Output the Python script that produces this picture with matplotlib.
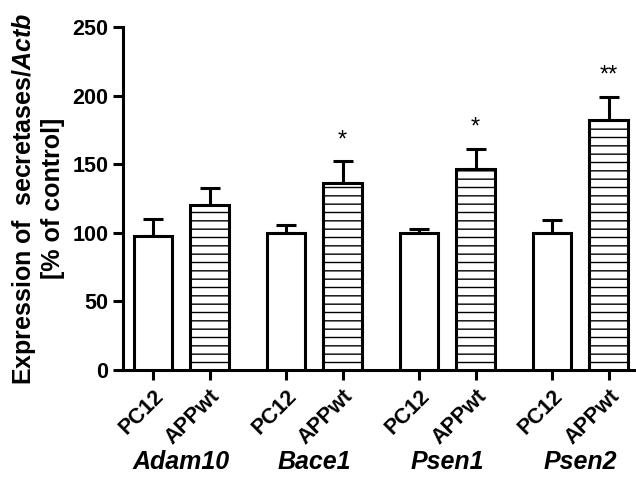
import matplotlib
matplotlib.use("Agg")
import matplotlib.pyplot as plt
import numpy as np

plt.rcParams['font.family'] = ['Liberation Sans', 'DejaVu Sans']
plt.rcParams['font.weight'] = 'bold'
plt.rcParams['mathtext.fontset'] = 'custom'
plt.rcParams['mathtext.it'] = 'Liberation Sans:italic:bold'
plt.rcParams['mathtext.rm'] = 'Liberation Sans:bold'
plt.rcParams['hatch.linewidth'] = 1.0

groups = ['Adam10', 'Bace1', 'Psen1', 'Psen2']
cell_lines = ['PC12', 'APPwt']
pc12 = [98, 100, 100, 100]
pc12_err = [12, 6, 2.5, 9]
appwt = [120.5, 136, 146.5, 182]
appwt_err = [12.5, 16, 14.5, 17]
signif = ['', '*', '*', '**']

fig = plt.figure(figsize=(6.36, 4.86), dpi=100)
ax = fig.add_axes([123 / 636, 116 / 486, 1 - 123 / 636, 343 / 486])

x = np.arange(len(groups))
off = 0.425
w = 0.29
x1 = x
x2 = x + off

ax.bar(x1, pc12, w, color='white', edgecolor='black', linewidth=2.2, zorder=3)
ax.bar(x2, appwt, w, color='white', edgecolor='black', linewidth=2.2,
       hatch='--', zorder=3)
zeros = [0] * len(groups)
ax.errorbar(x1, pc12, yerr=[zeros, pc12_err], fmt='none', ecolor='black',
            elinewidth=2.2, capsize=7, capthick=2.2, zorder=2)
ax.errorbar(x2, appwt, yerr=[zeros, appwt_err], fmt='none', ecolor='black',
            elinewidth=2.2, capsize=7, capthick=2.2, zorder=2)

for xi, v, e, s in zip(x2, appwt, appwt_err, signif):
    if s:
        ax.text(xi, v + e + 11, s, ha='center', va='baseline', fontsize=17,
                fontweight='normal')

ax.set_ylim(0, 250)
ax.set_xlim(-0.2256, 3.63)
ax.set_yticks([0, 50, 100, 150, 200, 250])
ax.set_xticks(np.concatenate([x1, x2]))
ax.set_xticklabels([cell_lines[0]] * len(groups) + [cell_lines[1]] * len(groups),
                   rotation=45, ha='right', rotation_mode='anchor')
ax.tick_params(axis='both', labelsize=15.5, width=2.2, length=7, direction='out')
ax.tick_params(axis='x', pad=4)
for lab in ax.get_xticklabels() + ax.get_yticklabels():
    lab.set_fontweight('bold')

ax.spines['top'].set_visible(False)
ax.spines['right'].set_visible(False)
ax.spines['left'].set_linewidth(2.2)
ax.spines['bottom'].set_linewidth(2.2)

for xi, g in zip(x, groups):
    ax.text(xi + off / 2, -0.268, g, transform=ax.get_xaxis_transform(),
            ha='center', va='center', fontsize=18, fontstyle='italic',
            fontweight='bold')

fig.text(37.5 / 636, 1 - 198.5 / 486,
         'Expression of  secretases/$\\mathit{Actb}$\n[% of control]',
         rotation=90, ha='center', va='center', multialignment='center',
         fontsize=18, fontweight='bold')

fig.savefig('out.png', dpi=100)
